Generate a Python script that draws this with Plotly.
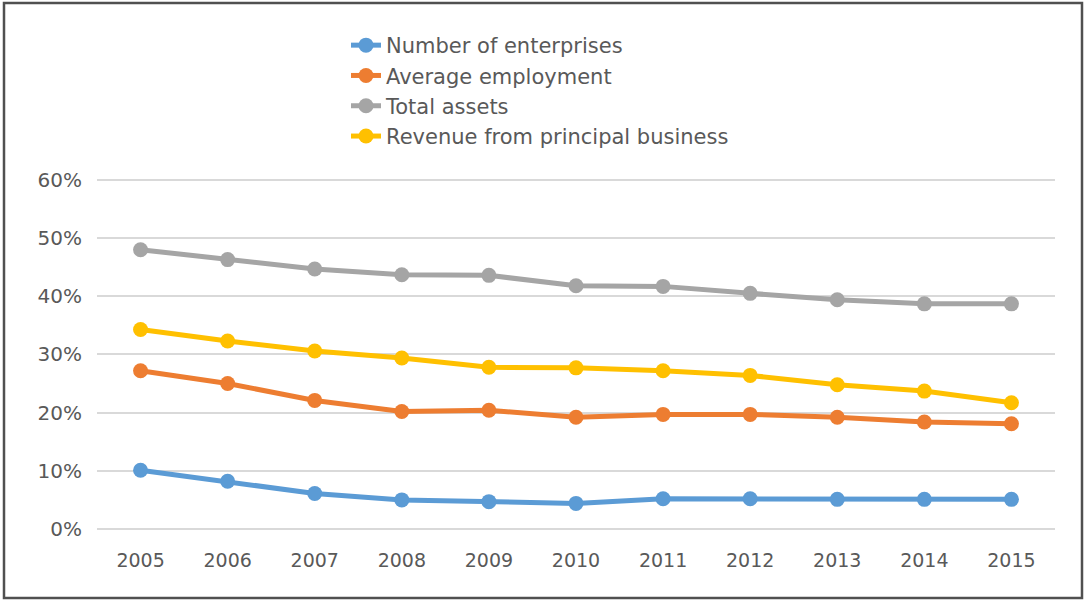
import plotly.graph_objects as go

years = ["2005", "2006", "2007", "2008", "2009", "2010", "2011", "2012", "2013", "2014", "2015"]
enterprises = [10.1, 8.2, 6.1, 5.0, 4.7, 4.4, 5.2, 5.2, 5.1, 5.1, 5.1]
employment = [27.2, 25.0, 22.1, 20.2, 20.4, 19.2, 19.7, 19.7, 19.2, 18.4, 18.1]
assets = [48.0, 46.3, 44.7, 43.7, 43.6, 41.8, 41.7, 40.5, 39.4, 38.7, 38.7]
revenue = [34.3, 32.3, 30.6, 29.4, 27.8, 27.7, 27.2, 26.4, 24.8, 23.7, 21.7]

series = [
    ("Number of enterprises", enterprises, "#5B9BD5"),
    ("Average employment", employment, "#ED7D31"),
    ("Total assets", assets, "#A5A5A5"),
    ("Revenue from principal business", revenue, "#FFC000"),
]

fig = go.Figure()
for name, vals, color in series:
    fig.add_trace(go.Scatter(
        x=years, y=[v / 100 for v in vals], name=name, mode="lines+markers",
        line=dict(color=color, width=5),
        marker=dict(color=color, size=15),
    ))

W, H = 1086, 602
ml, mr, mt, mb = 97, 31, 177, 73
pw, ph = W - ml - mr, H - mt - mb

def px(x):
    return (x - ml) / pw

def py(y):
    return (H - mb - y) / ph

FONT = "DejaVu Sans"
fig.update_layout(
    width=W, height=H,
    margin=dict(l=ml, r=mr, t=mt, b=mb),
    paper_bgcolor="white", plot_bgcolor="white",
    font=dict(family=FONT, color="#595959", size=18),
    showlegend=True,
    legend=dict(
        x=px(346), y=py(25), xanchor="left", yanchor="top",
        font=dict(family=FONT, size=21, color="#595959"),
        bgcolor="rgba(0,0,0,0)", tracegroupgap=0, itemwidth=30,
    ),
    xaxis=dict(
        type="category", range=[-0.5, 10.5], showgrid=False, zeroline=False,
        showline=False, ticks="", ticklabelstandoff=18,
        tickfont=dict(family=FONT, size=19, color="#595959"),
    ),
    yaxis=dict(
        range=[0, 0.605], tickvals=[0, 0.1, 0.2, 0.3, 0.4, 0.5, 0.6],
        tickformat=".0%", showgrid=True,
        gridcolor="#D9D9D9", gridwidth=1.5, zeroline=True,
        zerolinecolor="#D9D9D9", zerolinewidth=1.5, showline=False,
        ticks="", ticklabelstandoff=14,
        tickfont=dict(family=FONT, size=20, color="#595959"),
    ),
    shapes=[dict(
        type="rect", xref="paper", yref="paper",
        x0=px(4), x1=px(1082), y0=py(598), y1=py(3),
        line=dict(color="#505050", width=2.5), fillcolor="rgba(0,0,0,0)",
    )],
)

fig.write_html("out.html")
